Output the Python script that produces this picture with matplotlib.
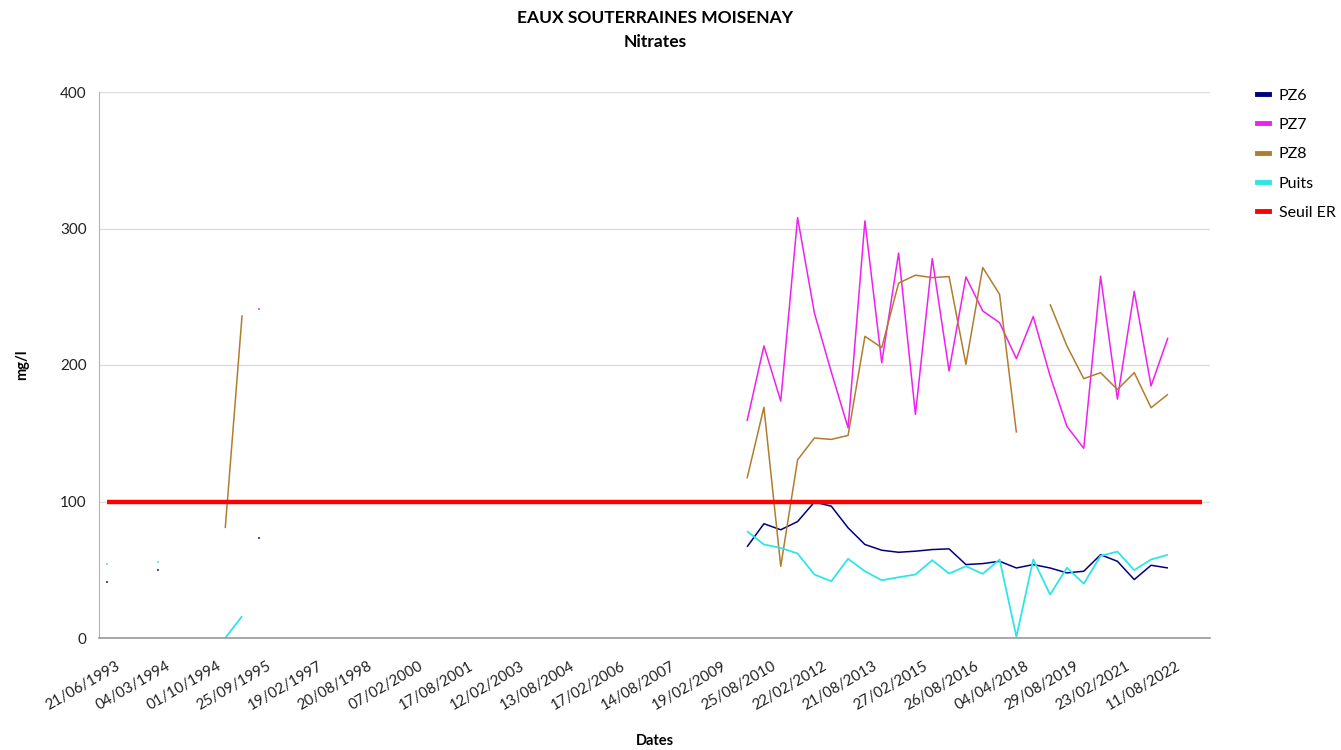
import matplotlib
matplotlib.use("Agg")
import matplotlib.pyplot as plt
import matplotlib.transforms as mtransforms
import numpy as np

plt.rcParams['font.family'] = ['Lato', 'DejaVu Sans']

NA = None
n_cat = 66

# labels shown on every 3rd category
date_labels = ['21/06/1993', '04/03/1994', '01/10/1994', '25/09/1995', '19/02/1997',
               '20/08/1998', '07/02/2000', '17/08/2001', '12/02/2003', '13/08/2004',
               '17/02/2006', '14/08/2007', '19/02/2009', '25/08/2010', '22/02/2012',
               '21/08/2013', '27/02/2015', '26/08/2016', '04/04/2018', '29/08/2019',
               '23/02/2021', '11/08/2022']

pz6 = ([41, NA, NA, 50, NA, NA, NA, NA, NA, 73] + [NA] * 28 +
       [66.8, 83.7, 79.3, 85.3, 99.6, 96.6, 80.7, 68.5, 64.3, 62.8, 63.6, 64.8, 65.3,
        53.8, 54.5, 56.2, 51.3, 53.8, 51.3, 47.7, 48.9, 61, 56.2, 42.8, 53.3, 51.3] +
       [NA, NA])

pz7 = ([NA, NA, NA, NA, NA, NA, NA, NA, NA, 241] + [NA] * 28 +
       [159, 214, 173.6, 308, 238, 195, 154, 305.6, 201.7, 282, 163.8, 278, 195.6,
        264.5, 239.6, 231, 204.6, 235.5, 192, 155, 139, 265, 175, 254, 184.6, 220] +
       [NA, NA])

pz8 = ([NA, NA, NA, NA, NA, NA, NA, 80.5, 236.5, NA] + [NA] * 28 +
       [117, 169, 52.5, 130.5, 146.5, 145.5, 148.4, 221, 212.7, 260, 265.8, 264, 264.8,
        200.5, 271.4, 251.8, 150.4, NA, 244.5, 214, 190, 194.4, 182, 194.4, 168.7, 178.5] +
       [NA, NA])

puits = ([54, NA, NA, 56, NA, NA, NA, 0, 16, NA] + [NA] * 28 +
         [78.2, 68.5, 66, 61.9, 46.5, 41.6, 58, 48.9, 42.3, 44.5, 46.5, 57, 47.2,
          52.6, 47, 57.5, 1, 57.5, 31.8, 51.5, 39.8, 60.2, 63.3, 49.7, 57.5, 61] +
         [NA, NA])

seuil_er = [100] * n_cat

series = [('PZ6', pz6, '#00007f', 1.1),
          ('PZ7', pz7, '#f020f0', 1.1),
          ('PZ8', pz8, '#b07d2e', 1.1),
          ('Puits', puits, '#2ee6e6', 1.3),
          ('Seuil ER', seuil_er, '#ff0000', 3.2)]

fig = plt.figure(figsize=(13.41, 7.5), dpi=100)
ax = fig.add_axes([99 / 1341, 1 - 638 / 750, (1210 - 99) / 1341, (638 - 92) / 750])

x = np.arange(n_cat)
handles = []
for name, vals, color, lw in series:
    y = np.array([np.nan if v is None else v for v in vals], dtype=float)
    line, = ax.plot(x, y, color=color, lw=lw, label=name, solid_capstyle='butt')
    handles.append(line)
    # single measurements with no neighbour show up as tiny dots
    prev_nan = np.r_[True, np.isnan(y[:-1])]
    next_nan = np.r_[np.isnan(y[1:]), True]
    lone = ~np.isnan(y) & prev_nan & next_nan
    ax.plot(x[lone], y[lone], ls='none', marker='s', ms=1.6, color=color, mew=0, alpha=0.7)

ax.set_xlim(-0.5, n_cat - 0.5)
ax.set_ylim(0, 400)
ax.set_yticks([0, 100, 200, 300, 400])
ax.tick_params(axis='y', length=0, pad=9, labelsize=11, labelcolor='#222222')
ax.yaxis.grid(True, color='#dddddd', lw=1)
ax.set_axisbelow(True)

ax.set_xticks(np.arange(0, n_cat, 3)[:len(date_labels)])
ax.set_xticklabels(date_labels, rotation=30, ha='right', va='top',
                   rotation_mode='anchor', fontsize=10.8, color='#222222')
ax.tick_params(axis='x', length=0, pad=15)
shift = mtransforms.ScaledTranslation(8 / 100, 0, fig.dpi_scale_trans)
for lab in ax.get_xticklabels():
    lab.set_transform(lab.get_transform() + shift)

for side in ['top', 'right']:
    ax.spines[side].set_visible(False)
ax.spines['left'].set_color('#b3b3b3')
ax.spines['bottom'].set_color('#999999')
ax.spines['bottom'].set_linewidth(1.2)

fig.text(655 / 1341, 1 - 18 / 750, 'EAUX SOUTERRAINES MOISENAY', ha='center', va='center',
         fontsize=12.5, fontweight='bold')
fig.text(655 / 1341, 1 - 42 / 750, 'Nitrates', ha='center', va='center',
         fontsize=12.5, fontweight='bold')
fig.text(22 / 1341, 1 - 365 / 750, 'mg/l', rotation=90, ha='center', va='center',
         fontsize=10.5, fontweight='bold')
fig.text(655 / 1341, 1 - 741 / 750, 'Dates', ha='center', va='center',
         fontsize=10.5, fontweight='bold')

leg_handles = [plt.Line2D([], [], color=h.get_color(), lw=3.5) for h in handles]
fig.legend(leg_handles, [h.get_label() for h in handles], loc='upper left',
           bbox_to_anchor=(1243 / 1341, 1 - 74 / 750), frameon=False, fontsize=11.5,
           handlelength=0.75, handletextpad=0.6, labelspacing=0.95)

fig.savefig('out.png', dpi=100)
